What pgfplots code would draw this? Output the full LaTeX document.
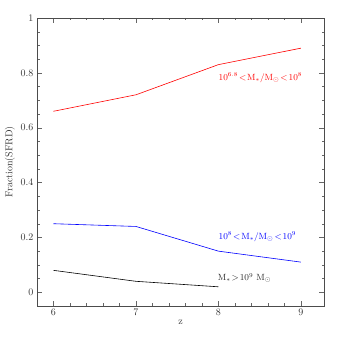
\documentclass[border=0pt]{standalone}
\usepackage{pgfplots}
\pgfplotsset{compat=1.18}
\begin{document}
\begin{tikzpicture}
\path[use as bounding box] (-37pt,-37pt) rectangle (306pt,306pt);
\begin{axis}[
  at={(0pt,0pt)}, anchor=south west,
  scale only axis, width=287pt, height=288pt,
  xmin=5.8, xmax=9.28, ymin=-0.05, ymax=1,
  xtick={6,7,8,9}, ytick={0,0.2,0.4,0.6,0.8,1},
  minor x tick num=4, minor y tick num=3,
  tick align=inside, xtick pos=both, ytick pos=both,
  major tick length=5pt, minor tick length=2.5pt,
  tick style={black!60, line width=0.4pt},
  axis line style={black!70, line width=0.5pt},
  tick label style={font=\normalsize, text=black!80},
  yticklabel style={/pgf/number format/fixed},
  xlabel={z}, ylabel={Fraction(SFRD)},
  label style={font=\normalsize, text=black!80},
  ylabel style={yshift=-1pt},
  xlabel style={yshift=3pt},
]
\addplot[red, line width=0.6pt] coordinates {(6,0.66) (7,0.72) (8,0.83) (9,0.89)};
\addplot[blue, line width=0.6pt] coordinates {(6,0.25) (7,0.24) (8,0.15) (9,0.11)};
\addplot[black, line width=0.6pt] coordinates {(6,0.08) (7,0.04) (8,0.02)};
\node[anchor=west, red, font=\small, inner sep=0pt] at (axis cs:8.0,0.782) {$10^{6.8}\!<\!\mathrm{M}_*/\mathrm{M}_\odot\!<\!10^8$};
\node[anchor=west, blue, font=\small, inner sep=0pt] at (axis cs:8.0,0.202) {$10^{8}\!<\!\mathrm{M}_*/\mathrm{M}_\odot\!<\!10^9$};
\node[anchor=west, black!85, font=\small, inner sep=0pt] at (axis cs:7.99,0.052) {$\mathrm{M}_*\!>\!10^9\ \mathrm{M}_\odot$};
\end{axis}
\end{tikzpicture}
\end{document}
